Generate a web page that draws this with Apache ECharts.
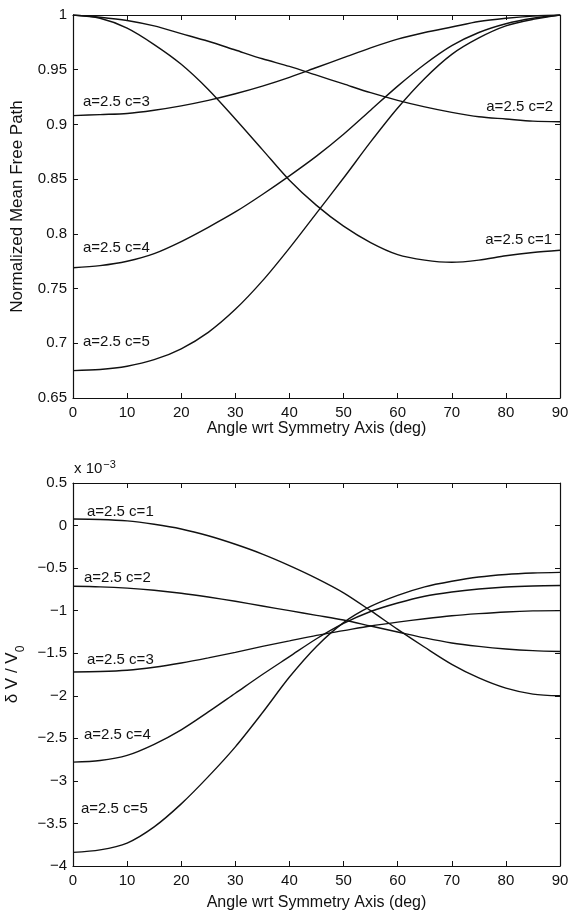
<!DOCTYPE html>
<html>
<head>
<meta charset="utf-8">
<script src="https://cdn.jsdelivr.net/npm/echarts@6/dist/echarts.min.js"></script>
<style>
  html, body { margin: 0; padding: 0; background: #fff; }
  #chart { width: 586px; height: 913px; }
</style>
</head>
<body>
<div id="chart"></div>
<script>
// angles (deg), 5 deg steps
const angles = [0, 5, 10, 15, 20, 25, 30, 35, 40, 45, 50, 55, 60, 65, 70, 75, 80, 85, 90]
const xTicks = [0, 10, 20, 30, 40, 50, 60, 70, 80, 90]

// top panel: normalized mean free path
const mfpC1 = [1.0, 0.997, 0.988, 0.973, 0.955, 0.932, 0.905, 0.877, 0.849, 0.826, 0.807, 0.792, 0.781, 0.776, 0.774, 0.776, 0.780, 0.783, 0.785]
const mfpC2 = [1.0, 0.998, 0.995, 0.990, 0.983, 0.976, 0.968, 0.960, 0.953, 0.945, 0.937, 0.929, 0.922, 0.916, 0.911, 0.907, 0.905, 0.903, 0.9025]
const mfpC3 = [0.908, 0.909, 0.910, 0.913, 0.917, 0.922, 0.928, 0.935, 0.943, 0.952, 0.961, 0.970, 0.978, 0.984, 0.989, 0.994, 0.997, 0.999, 1.0]
const mfpC4 = [0.769, 0.771, 0.775, 0.782, 0.793, 0.806, 0.820, 0.836, 0.853, 0.871, 0.891, 0.913, 0.935, 0.955, 0.972, 0.984, 0.992, 0.997, 1.0]
const mfpC5 = [0.675, 0.676, 0.679, 0.685, 0.695, 0.710, 0.731, 0.757, 0.787, 0.819, 0.851, 0.884, 0.915, 0.942, 0.964, 0.979, 0.990, 0.996, 1.0]

// bottom panel: dV / V0, in units of 1e-3
const dvC1 = [0.077, 0.072, 0.055, 0.015, -0.04, -0.12, -0.22, -0.335, -0.47, -0.62, -0.79, -1.0, -1.22, -1.43, -1.63, -1.79, -1.91, -1.98, -2.0]
const dvC2 = [-0.714, -0.72, -0.735, -0.76, -0.795, -0.84, -0.89, -0.945, -1.0, -1.055, -1.11, -1.18, -1.25, -1.32, -1.38, -1.42, -1.45, -1.47, -1.48]
const dvC3 = [-1.72, -1.715, -1.70, -1.665, -1.615, -1.555, -1.49, -1.42, -1.355, -1.29, -1.235, -1.18, -1.135, -1.095, -1.06, -1.035, -1.015, -1.003, -1.0]
const dvC4 = [-2.78, -2.76, -2.70, -2.57, -2.40, -2.19, -1.97, -1.75, -1.54, -1.33, -1.15, -1.01, -0.91, -0.83, -0.78, -0.745, -0.722, -0.71, -0.705]
const dvC5 = [-3.84, -3.81, -3.73, -3.54, -3.27, -2.95, -2.60, -2.20, -1.78, -1.42, -1.14, -0.95, -0.82, -0.72, -0.655, -0.605, -0.575, -0.558, -0.55]

const seriesNames = ['a=2.5 c=1', 'a=2.5 c=2', 'a=2.5 c=3', 'a=2.5 c=4', 'a=2.5 c=5']

const FONT = 'Liberation Sans, Arial, sans-serif'
const INK = '#111'

const chart = echarts.init(document.getElementById('chart'))

const pairs = (ys) => angles.map((a, i) => [a, ys[i]])

// x axes: bottom with labels, top mirror with inside ticks only
const mkX = (gridIndex, pos, withLabels, gap) => ({
  type: 'value', gridIndex, position: pos,
  min: 0, max: 90, interval: 10,
  name: withLabels ? 'Angle wrt Symmetry Axis (deg)' : '',
  nameLocation: 'middle', nameGap: gap,
  nameTextStyle: { fontFamily: FONT, fontSize: 16, color: INK },
  axisLine: { show: true, onZero: false, lineStyle: { color: INK, width: 1.2 } },
  axisTick: { show: true, inside: true, length: 5, lineStyle: { color: INK } },
  axisLabel: { show: withLabels, fontFamily: FONT, fontSize: 15, color: INK, margin: 7 },
  splitLine: { show: false }
})

const mkY = (gridIndex, pos, withLabels, min, max, interval, name, gap, fmt) => ({
  type: 'value', gridIndex, position: pos,
  min, max, interval,
  name: withLabels ? name : '',
  nameLocation: 'middle', nameGap: gap, nameRotate: 90,
  nameTextStyle: {
    fontFamily: FONT, fontSize: 17, color: INK,
    rich: { sub: { fontFamily: FONT, fontSize: 12, color: INK, verticalAlign: 'bottom', padding: [0, 0, -6, 0] } }
  },
  axisLine: { show: true, onZero: false, lineStyle: { color: INK, width: 1.2 } },
  axisTick: { show: true, inside: true, length: 5, lineStyle: { color: INK } },
  axisLabel: { show: withLabels, fontFamily: FONT, fontSize: 15, color: INK, margin: 6, formatter: fmt },
  splitLine: { show: false }
})

const fmtTop = (v) => (Math.abs(v - 1) < 1e-9 ? '1' : String(+v.toFixed(2)))
const fmtBot = (v) => {
  const r = +v.toFixed(1)
  return r < 0 ? '\u2212' + String(-r) : String(r)
}

// label anchor: which data index, align, pixel offset
const topLabels = [
  { idx: angles.length - 1, align: 'right', off: [-8, -10] },
  { idx: angles.length - 1, align: 'right', off: [-7, -15] },
  { idx: 0, align: 'left', off: [10, -14] },
  { idx: 0, align: 'left', off: [10, -20] },
  { idx: 0, align: 'left', off: [10, -29] }
]
const botLabels = [
  { idx: 0, align: 'left', off: [14, -7] },
  { idx: 0, align: 'left', off: [11, -8] },
  { idx: 0, align: 'left', off: [14, -12] },
  { idx: 0, align: 'left', off: [11, -27] },
  { idx: 0, align: 'left', off: [8, -44] }
]

const mkLine = (name, ys, axisIdx, lab) => ({
  name, type: 'line', xAxisIndex: axisIdx, yAxisIndex: axisIdx,
  data: pairs(ys), smooth: 0.3, showSymbol: false, symbol: 'none',
  lineStyle: { color: INK, width: 1.4 },
  silent: true, animation: false,
  markPoint: {
    symbol: 'circle', symbolSize: 0, silent: true, animation: false,
    data: [{ coord: [angles[lab.idx], ys[lab.idx]] }],
    label: {
      show: true, formatter: name, position: lab.off,
      align: lab.align, verticalAlign: 'middle',
      fontFamily: FONT, fontSize: 15, color: INK
    }
  }
})

const topData = [mfpC1, mfpC2, mfpC3, mfpC4, mfpC5]
const botData = [dvC1, dvC2, dvC3, dvC4, dvC5]

const option = {
  backgroundColor: '#fff',
  animation: false,
  grid: [
    { left: 73, top: 15, width: 487, height: 383, outerBoundsMode: 'none', containLabel: false },
    { left: 73, top: 483, width: 487, height: 383, outerBoundsMode: 'none', containLabel: false }
  ],
  xAxis: [
    mkX(0, 'bottom', true, 22),
    mkX(1, 'bottom', true, 29),
    mkX(0, 'top', false, 0),
    mkX(1, 'top', false, 0)
  ],
  yAxis: [
    mkY(0, 'left', true, 0.65, 1, 0.05, 'Normalized Mean Free Path', 47, fmtTop),
    mkY(1, 'left', true, -4, 0.5, 0.5, '\u03b4 V / V{sub|0}', 42, fmtBot),
    mkY(0, 'right', false, 0.65, 1, 0.05, '', 0, fmtTop),
    mkY(1, 'right', false, -4, 0.5, 0.5, '', 0, fmtBot)
  ],
  graphic: [{
    type: 'text', left: 74, top: 459,
    style: {
      text: 'x 10{sup|\u22123}',
      font: '15px ' + FONT, fill: INK,
      rich: { sup: { fontSize: 11, fontFamily: FONT, fill: INK, verticalAlign: 'top', padding: [0, 0, 8, 1] } }
    }
  }],
  series: [
    ...topData.map((ys, i) => mkLine(seriesNames[i], ys, 0, topLabels[i])),
    ...botData.map((ys, i) => mkLine(seriesNames[i], ys, 1, botLabels[i]))
  ]
}

chart.setOption(option)
</script>
</body>
</html>
